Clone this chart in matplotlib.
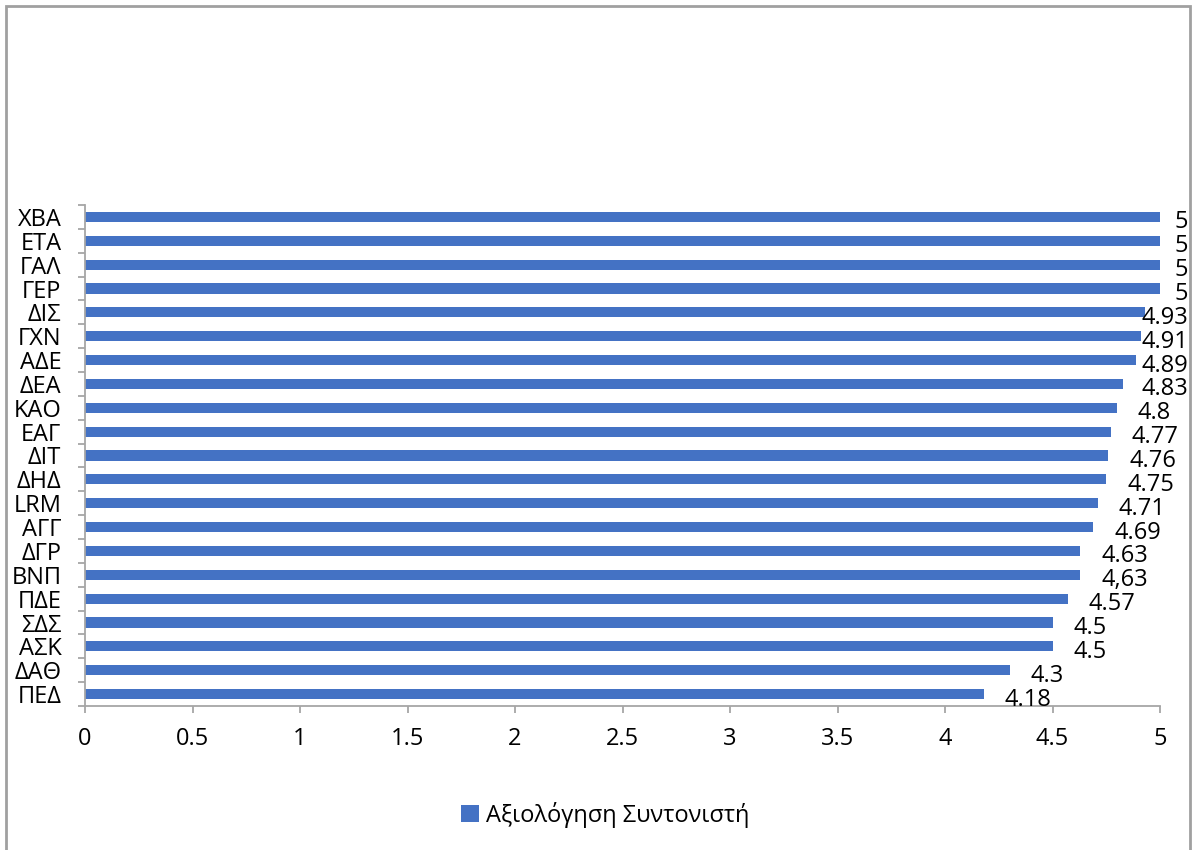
import matplotlib.pyplot as plt
from matplotlib.patches import Rectangle

plt.rcParams['font.family'] = ['Open Sans', 'DejaVu Sans']

# categories from bottom to top
categories = ['ΠΕΔ', 'ΔΑΘ', 'ΑΣΚ', 'ΣΔΣ', 'ΠΔΕ', 'ΒΝΠ', 'ΔΓΡ', 'ΑΓΓ', 'LRM', 'ΔΗΔ', 'ΔΙΤ',
              'ΕΑΓ', 'ΚΑΟ', 'ΔΕΑ', 'ΑΔΕ', 'ΓΧΝ', 'ΔΙΣ', 'ΓΕΡ', 'ΓΑΛ', 'ΕΤΑ', 'ΧΒΑ']
scores = [4.18, 4.3, 4.5, 4.5, 4.57, 4.63, 4.63, 4.69, 4.71, 4.75, 4.76,
          4.77, 4.8, 4.83, 4.89, 4.91, 4.93, 5, 5, 5, 5]
score_labels = ['4.18', '4.3', '4.5', '4.5', '4.57', '4,63', '4.63', '4.69', '4.71', '4.75', '4.76',
                '4.77', '4.8', '4.83', '4.89', '4.91', '4.93', '5', '5', '5', '5']
series_name = 'Αξιολόγηση Συντονιστή'
xticks = [0, 0.5, 1, 1.5, 2, 2.5, 3, 3.5, 4, 4.5, 5]

blue = '#4472C4'
gray = '#A6A6A6'
fs = 17

fig = plt.figure(figsize=(11.92, 8.5), dpi=100)
ax = fig.add_axes([85 / 1192, 1 - 706 / 850, 1075 / 1192, 501 / 850])

y = range(len(categories))
ax.barh(y, scores, height=0.42, color=blue, label=series_name, zorder=2)

ax.set_xlim(0, 5)
ax.set_ylim(-0.5, len(categories) - 0.5)
ax.set_xticks(xticks)
ax.set_xticklabels([('%g' % t) for t in xticks], fontsize=fs)
ax.set_yticks(list(y))
ax.set_yticklabels(categories, fontsize=fs)
ax.set_yticks([i - 0.5 for i in range(len(categories) + 1)], minor=True)

for s in ['top', 'right']:
    ax.spines[s].set_visible(False)
for s in ['left', 'bottom']:
    ax.spines[s].set_color(gray)
    ax.spines[s].set_linewidth(1.3)

ax.tick_params(axis='y', which='major', length=0, pad=17)
ax.tick_params(axis='y', which='minor', length=5, color=gray, width=1.3)
ax.tick_params(axis='x', which='major', length=5, color=gray, width=1.3, pad=10)

# data labels: right of the bar, pushed back inside the chart if they would overflow
fig.canvas.draw()
renderer = fig.canvas.get_renderer()
right_limit = 1188
texts = []
for i, (v, lab) in enumerate(zip(scores, score_labels)):
    t = ax.annotate(lab, (v, i), xytext=(15, -4), textcoords='offset points',
                    ha='left', va='center', fontsize=fs, color='#000000', annotation_clip=False)
    texts.append(t)
for t in texts:
    bb = t.get_window_extent(renderer)
    if bb.x1 > right_limit:
        shift = (bb.x1 - right_limit) * 72 / fig.dpi
        x0, y0 = t.xyann
        t.xyann = (x0 - shift, y0)

fig.legend(loc='center', bbox_to_anchor=(605 / 1192, 1 - 815 / 850), frameon=False,
           fontsize=fs, handlelength=0.75, handleheight=0.75, handletextpad=0.3)

fig.patches.append(Rectangle((6 / 1192, -0.01), 1184 / 1192, 1 - 6 / 850 + 0.01,
                             transform=fig.transFigure, fill=False, edgecolor='#A0A0A0',
                             linewidth=2, zorder=10))

fig.savefig('out.png', dpi=100)
